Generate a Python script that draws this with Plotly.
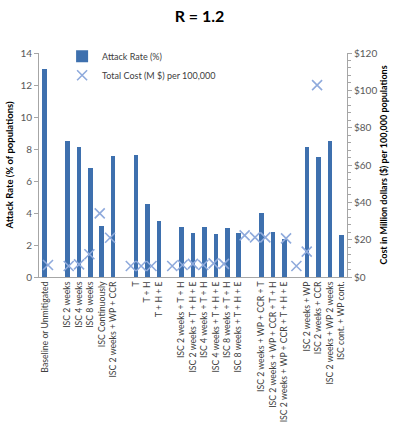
import plotly.graph_objects as go

categories = [
    "Baseline or Unmitigated", "",
    "ISC 2 weeks", "ISC 4 weeks", "ISC 8 weeks", "ISC Continuously",
    "ISC 2 weeks + WP + CCR", "",
    "T", "T + H", "T + H + E", "",
    "ISC 2 weeks + T + H", "ISC 2 weeks + T + H + E",
    "ISC 4 weeks + T + H", "ISC 4 weeks + T + H + E",
    "ISC 8 weeks + T + H", "ISC 8 weeks + T + H + E", "",
    "ISC 2 weeks + WP + CCR + T", "ISC 2 weeks + WP + CCR + T + H",
    "ISC 2 weeks + WP + CCR + T + H + E", "",
    "ISC 2 weeks + WP", "ISC 2 weeks + CCR", "ISC 2 weeks + WP 2 weeks",
    "ISC cont. + WP cont.",
]

attack_rate = [
    13.0, None,
    8.5, 8.15, 6.8, 3.2, 7.55, None,
    7.6, 4.55, 3.5, None,
    3.15, 2.75, 3.1, 2.7, 3.05, 2.75, None,
    4.0, 2.8, 2.38, None,
    8.15, 7.48, 8.5, 2.6,
]

total_cost = [
    6.4, None,
    5.9, 6.8, 12.2, 34.1, 21.0, None,
    5.9, 5.9, 5.9, None,
    5.9, 6.4, 7.0, 6.4, 7.3, 7.0, None,
    22.3, 21.2, 21.2, None,
    20.7, 5.9, 13.6, 102.8,
]

left_ticks = [0, 2, 4, 6, 8, 10, 12, 14]
right_ticks = [0, 20, 40, 60, 80, 100, 120]
right_tick_text = ["$0", "$20", "$40", "$60", "$80", "$100", "$120"]

idx = list(range(len(categories)))
label_idx = [i for i, c in enumerate(categories) if c]
label_txt = [c for c in categories if c]

bar_x = [i for i in idx if attack_rate[i] is not None]
bar_y = [attack_rate[i] for i in bar_x]
cost_x = [i for i in idx if total_cost[i] is not None]
cost_y = [total_cost[i] for i in cost_x]

FONT = "Lato, 'Liberation Sans', sans-serif"

fig = go.Figure()
fig.add_trace(go.Bar(
    x=bar_x, y=bar_y, name="Attack Rate (%)",
    marker=dict(color="#3E70AE", line=dict(width=0)),
    width=0.4, xaxis="x", yaxis="y",
))
fig.add_trace(go.Scatter(
    x=cost_x, y=cost_y, name="Total Cost (M $) per 100,000",
    mode="markers",
    marker=dict(symbol="x-thin", size=10, line=dict(width=1.6, color="#8FAADC"), color="#8FAADC"),
    xaxis="x2", yaxis="y2",
))

fig.update_layout(
    width=399, height=425,
    margin=dict(l=39, r=52, t=53, b=148, pad=0),
    paper_bgcolor="white", plot_bgcolor="white",
    font=dict(family=FONT, size=10, color="#595959"),
    title=dict(text="<b>R = 1.2</b>", x=0.5, xanchor="center", y=0.962, yanchor="middle",
               font=dict(family=FONT, size=16, color="black")),
    showlegend=True,
    legend=dict(x=0.075, y=1.05, xanchor="left", yanchor="top", bgcolor="rgba(0,0,0,0)",
                font=dict(size=9, color="#404040"), itemwidth=30, tracegroupgap=0),
    bargap=0,
    xaxis=dict(
        range=[-0.5, len(categories) - 0.5], automargin=False,
        tickmode="array", tickvals=label_idx, ticktext=label_txt,
        tickangle=-90, tickfont=dict(size=8.7, color="#404040"),
        showline=True, linecolor="#A6A6A6", linewidth=1,
        ticks="", showgrid=False, zeroline=False,
    ),
    xaxis2=dict(
        range=[-0.87, 28.89], overlaying="x", anchor="y2", visible=False,
    ),
    yaxis=dict(
        range=[0, 14], tickmode="array", tickvals=left_ticks, automargin=False,
        showline=True, linecolor="#A6A6A6", linewidth=1,
        ticks="outside", ticklen=4, tickcolor="#A6A6A6",
        showgrid=False, zeroline=False,
        tickfont=dict(size=10, color="#595959"),
        title=dict(text="<b>Attack Rate (% of populations)</b>", standoff=5,
                   font=dict(size=9.5, color="black")),
    ),
    yaxis2=dict(
        range=[0, 120], tickmode="array", tickvals=right_ticks, ticktext=right_tick_text,
        overlaying="y", side="right", anchor="x", automargin=False,
        showline=True, linecolor="#A6A6A6", linewidth=1,
        ticks="outside", ticklen=4, tickcolor="#A6A6A6",
        minor=dict(ticks="outside", ticklen=3, dtick=4, tickcolor="#A6A6A6"),
        showgrid=False, zeroline=False,
        tickfont=dict(size=10, color="#595959"),
        title=dict(text="<b>Cost in Million dollars ($) per 100,000 populations</b>", standoff=4,
                   font=dict(size=9, color="black")),
    ),
)

fig.write_html("out.html", config={"displayModeBar": False},
               post_script="document.body.style.margin='0px';")
